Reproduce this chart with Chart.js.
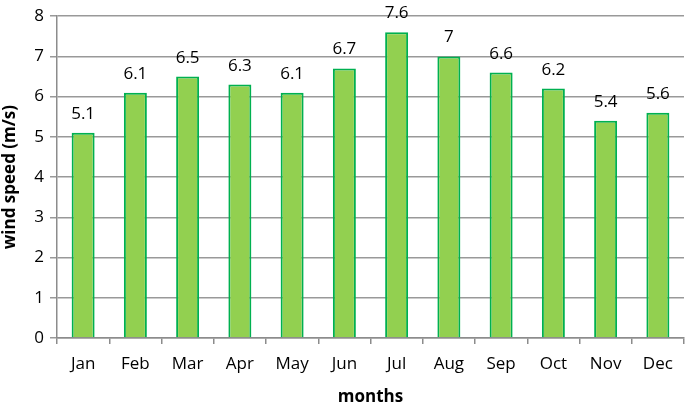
<!DOCTYPE html>
<html>
<head>
<meta charset="utf-8">
<script src="https://cdn.jsdelivr.net/npm/chart.js@4"></script>
<style>
  html, body { margin: 0; padding: 0; background: #fff; }
  #wrap { width: 685px; height: 408px; }
</style>
</head>
<body>
<div id="wrap"><canvas id="windChart"></canvas></div>
<script>
const months = ['Jan', 'Feb', 'Mar', 'Apr', 'May', 'Jun', 'Jul', 'Aug', 'Sep', 'Oct', 'Nov', 'Dec'];
const windSpeed = [5.1, 6.1, 6.5, 6.3, 6.1, 6.7, 7.6, 7, 6.6, 6.2, 5.4, 5.6];

const fontFamily = '"Open Sans", sans-serif';

// value labels above each bar
const barLabels = {
    id: 'barLabels',
    afterDatasetsDraw(chart) {
        const ctx = chart.ctx;
        const meta = chart.getDatasetMeta(0);
        ctx.save();
        ctx.font = '17px ' + fontFamily;
        ctx.fillStyle = '#000';
        ctx.textAlign = 'center';
        ctx.textBaseline = 'alphabetic';
        meta.data.forEach((bar, i) => {
            ctx.fillText(String(windSpeed[i]), bar.x, bar.y - 14);
        });
        ctx.restore();
    }
};

const ctx = document.getElementById('windChart').getContext('2d');
new Chart(ctx, {
    type: 'bar',
    data: {
        labels: months,
        datasets: [{
            data: windSpeed,
            backgroundColor: '#92D050',
            borderColor: '#00B050',
            borderWidth: 2,
            borderSkipped: 'bottom',
            categoryPercentage: 1,
            barPercentage: 0.44
        }]
    },
    options: {
        responsive: true,
        maintainAspectRatio: false,
        animation: false,
        layout: { padding: { top: 6, right: 1, left: 0, bottom: 0 } },
        plugins: {
            legend: { display: false },
            tooltip: { enabled: false }
        },
        scales: {
            x: {
                grid: {
                    offset: true,
                    drawOnChartArea: false,
                    tickLength: 6,
                    color: '#8c8c8c',
                    lineWidth: 1.5
                },
                border: { color: '#8c8c8c', width: 1.5 },
                ticks: { color: '#000', font: { size: 17, family: fontFamily }, padding: 10 },
                title: {
                    display: true,
                    text: 'months',
                    color: '#000',
                    font: { size: 17, weight: 'bold', family: fontFamily },
                    padding: { top: 8, bottom: 1 }
                },
                afterFit(scale) { scale.height = 70; }
            },
            y: {
                min: 0,
                max: 8,
                ticks: { stepSize: 1, color: '#000', font: { size: 17, family: fontFamily }, padding: 6 },
                grid: { color: '#999999', lineWidth: 1.5, tickLength: 7 },
                border: { color: '#8c8c8c', width: 1.5 },
                title: {
                    display: true,
                    text: 'wind speed (m/s)',
                    color: '#000',
                    font: { size: 17, weight: 'bold', family: fontFamily },
                    padding: { top: 0, bottom: 2 }
                },
                afterFit(scale) { scale.width = 57; }
            }
        }
    },
    plugins: [barLabels]
});
</script>
</body>
</html>
